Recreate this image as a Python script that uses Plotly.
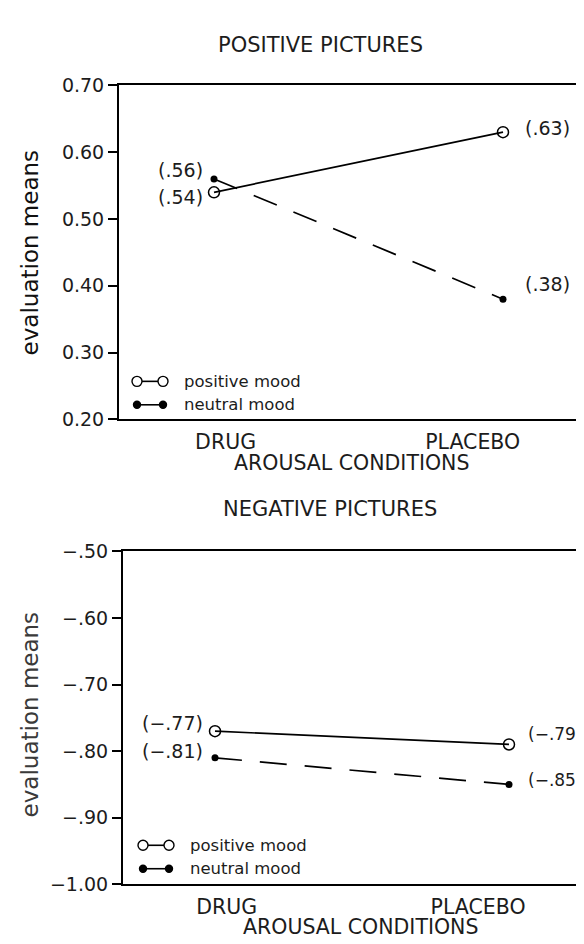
import plotly.graph_objects as go

conditions = ["DRUG", "PLACEBO"]
cond_x = [0, 1]
tick_label_x = [0.04, 0.895]

pos_top = [0.54, 0.63]
neu_top = [0.56, 0.38]
pos_bot = [-0.77, -0.79]
neu_bot = [-0.81, -0.85]

pos_top_lbl = ["(.54)", "(.63)"]
neu_top_lbl = ["(.56)", "(.38)"]
pos_bot_lbl = ["(\u2212.77)", "(\u2212.79)"]
neu_bot_lbl = ["(\u2212.81)", "(\u2212.85)"]

top_ticks = [0.20, 0.30, 0.40, 0.50, 0.60, 0.70]
top_ticktext = ["0.20", "0.30", "0.40", "0.50", "0.60", "0.70"]
bot_ticks = [-1.00, -0.90, -0.80, -0.70, -0.60, -0.50]
bot_ticktext = ["\u22121.00", "\u2212.90", "\u2212.80", "\u2212.70", "\u2212.60", "\u2212.50"]

W, H = 584, 944
FONT = "DejaVu Sans"
INK = "#1c1c1c"

def px(x):
    return x / W

def py(y):
    return 1 - y / H

fig = go.Figure()

panels = [
    dict(xa="x", ya="y", xl="xaxis", yl="yaxis", left=111, top=68, bottom=410,
         drug_px=206, plac_px=495, rng=[0.20, 0.70],
         ticks=top_ticks, ticktext=top_ticktext,
         pos=pos_top, neu=neu_top, plbl=pos_top_lbl, nlbl=neu_top_lbl,
         title="POSITIVE PICTURES", title_y=27, title_x=208,
         xtitle_x=343, xtitle_y=455, ylab_y=239, ylab_color="#111", right_ticks=True,
         lbl_shift=dict(p0=-5, n0=9, p1=4, n1=15), lshift=-9, rshift=20, rsize=19,
         dash="25px,18px", leg_dx=18, leg_y=371),
    dict(xa="x2", ya="y2", xl="xaxis2", yl="yaxis2", left=115, top=545, bottom=886,
         drug_px=207, plac_px=501, rng=[-1.00, -0.50],
         ticks=bot_ticks, ticktext=bot_ticktext,
         pos=pos_bot, neu=neu_bot, plbl=pos_bot_lbl, nlbl=neu_bot_lbl,
         title="NEGATIVE PICTURES", title_y=502, title_x=213,
         xtitle_x=352, xtitle_y=930, ylab_y=712, ylab_color="#3a3a3a", right_ticks=False,
         lbl_shift=dict(p0=8, n0=7, p1=10, n1=4), lshift=-10, rshift=17, rsize=17,
         dash="27px,18px", leg_dx=20, leg_y=846),
]

for i, p in enumerate(panels):
    unit = p["plac_px"] - p["drug_px"]
    x_range = [(p["left"] - p["drug_px"]) / unit, (W - p["drug_px"]) / unit]

    fig.add_trace(go.Scatter(
        x=cond_x, y=p["pos"], mode="lines+markers", xaxis=p["xa"], yaxis=p["ya"],
        line=dict(color="black", width=1.7),
        marker=dict(symbol="circle-open", size=11, color="black", line=dict(width=1.5)),
        showlegend=False, hoverinfo="skip", cliponaxis=False))
    fig.add_trace(go.Scatter(
        x=cond_x, y=p["neu"], mode="lines+markers", xaxis=p["xa"], yaxis=p["ya"],
        line=dict(color="black", width=1.7, dash=p["dash"]),
        marker=dict(symbol="circle", size=7, color="black"),
        showlegend=False, hoverinfo="skip", cliponaxis=False))

    dom_x = [px(p["left"]), 1.0]
    dom_y = [py(p["bottom"]), py(p["top"])]
    fig.update_layout(**{
        p["xl"]: dict(domain=dom_x, range=x_range, anchor=p["ya"],
                      tickvals=tick_label_x, ticktext=conditions, ticks="",
                      ticklabelstandoff=3,
                      showline=True, linecolor="black", linewidth=2, mirror=True,
                      showgrid=False, zeroline=False, fixedrange=True,
                      tickfont=dict(family=FONT, size=20.5, color=INK)),
        p["yl"]: dict(domain=dom_y, range=p["rng"], anchor=p["xa"],
                      tickvals=p["ticks"], ticktext=p["ticktext"],
                      ticks="outside", ticklen=9, tickcolor="black", tickwidth=1.6,
                      showline=True, linecolor="black", linewidth=2,
                      showgrid=False, zeroline=False, fixedrange=True,
                      tickfont=dict(family=FONT, size=19, color=INK)),
    })

    # axis titles
    fig.add_annotation(text="AROUSAL CONDITIONS", xref="paper", yref="paper",
                       x=px(p["xtitle_x"]), y=py(p["xtitle_y"]),
                       xanchor="center", yanchor="middle", showarrow=False,
                       font=dict(family=FONT, size=20.5, color=INK))
    fig.add_annotation(text="evaluation means", xref="paper", yref="paper",
                       x=px(22), y=py(p["ylab_y"]), textangle=-90,
                       xanchor="center", yanchor="middle",
                       showarrow=False, font=dict(family=FONT, size=23, color=p["ylab_color"]))

    # right-side inward ticks
    if p["right_ticks"]:
        for t in p["ticks"][1:-1]:
            fig.add_shape(type="line", xref="paper", yref=p["ya"],
                          x0=px(W - 5), x1=1.0, y0=t, y1=t,
                          line=dict(color="black", width=1.5))

    fig.add_annotation(text=p["title"], xref="paper", yref="paper",
                       x=px(p["title_x"]), y=py(p["title_y"]),
                       xanchor="left", yanchor="middle", showarrow=False,
                       font=dict(family=FONT, size=21, color=INK))

    s = p["lbl_shift"]
    lf = dict(family=FONT, size=19, color=INK)
    rf = dict(family=FONT, size=p["rsize"], color=INK)
    fig.add_annotation(text=p["plbl"][0], xref=p["xa"], yref=p["ya"], x=cond_x[0], y=p["pos"][0],
                       xanchor="right", yanchor="middle", xshift=p["lshift"], yshift=s["p0"],
                       showarrow=False, font=lf)
    fig.add_annotation(text=p["nlbl"][0], xref=p["xa"], yref=p["ya"], x=cond_x[0], y=p["neu"][0],
                       xanchor="right", yanchor="middle", xshift=p["lshift"], yshift=s["n0"],
                       showarrow=False, font=lf)
    fig.add_annotation(text=p["plbl"][1], xref=p["xa"], yref=p["ya"], x=cond_x[1], y=p["pos"][1],
                       xanchor="left", yanchor="middle", xshift=p["rshift"], yshift=s["p1"],
                       showarrow=False, font=rf)
    fig.add_annotation(text=p["nlbl"][1], xref=p["xa"], yref=p["ya"], x=cond_x[1], y=p["neu"][1],
                       xanchor="left", yanchor="middle", xshift=p["rshift"], yshift=s["n1"],
                       showarrow=False, font=rf)

    # legend inside bottom-left
    lx0 = p["left"] + p["leg_dx"]
    for j, (txt, filled) in enumerate([("positive mood", False), ("neutral mood", True)]):
        ly = p["leg_y"] + j * 24
        fig.add_shape(type="line", xref="paper", yref="paper",
                      x0=px(lx0), x1=px(lx0 + 26), y0=py(ly), y1=py(ly),
                      line=dict(color="black", width=1.6))
        r = 3.5 if filled else 5
        for cx in (lx0, lx0 + 26):
            fig.add_shape(type="circle", xref="paper", yref="paper",
                          xsizemode="pixel", ysizemode="pixel",
                          xanchor=px(cx), yanchor=py(ly),
                          x0=-r, x1=r, y0=-r, y1=r,
                          fillcolor="black" if filled else "white",
                          line=dict(color="black", width=1.4))
        fig.add_annotation(text=txt, xref="paper", yref="paper", x=px(lx0 + 45), y=py(ly),
                           xanchor="left", yanchor="middle", showarrow=False,
                           font=dict(family=FONT, size=16.5, color=INK))

fig.update_layout(width=W, height=H, margin=dict(l=0, r=0, t=0, b=0),
                  paper_bgcolor="white", plot_bgcolor="white", showlegend=False)

fig.write_html("out.html", config={"displayModeBar": False})
